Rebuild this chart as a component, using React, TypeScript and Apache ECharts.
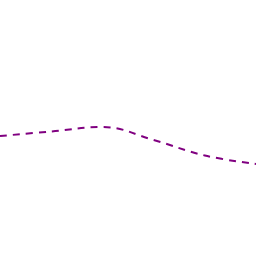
import React, { useEffect, useRef } from "react";
import * as echarts from "echarts";

const categories = ["A", "B", "C", "D", "E", "F"];
const values = [120, 124.5, 129, 116, 100.5, 92];

export default function App() {
  const ref = useRef<HTMLDivElement>(null);
  useEffect(() => {
    if (!ref.current) return;
    const chart = echarts.init(ref.current, null, { renderer: "svg" });
    chart.setOption({
      animation: false,
      backgroundColor: "#ffffff",
      grid: { left: 0, right: 0, top: 0, bottom: 0 },
      xAxis: { type: "category", data: categories, boundaryGap: false, show: false },
      yAxis: { type: "value", min: 0, max: 256, show: false },
      series: [
        {
          type: "line",
          data: values,
          smooth: 0.4,
          symbol: "none",
          lineStyle: { color: "#800080", width: 2, type: [7, 6] },
        },
      ],
    });
    return () => chart.dispose();
  }, []);
  return (
    <div
      ref={ref}
      style={{ position: "absolute", left: 0, top: 0, width: 256, height: 256 }}
    />
  );
}
